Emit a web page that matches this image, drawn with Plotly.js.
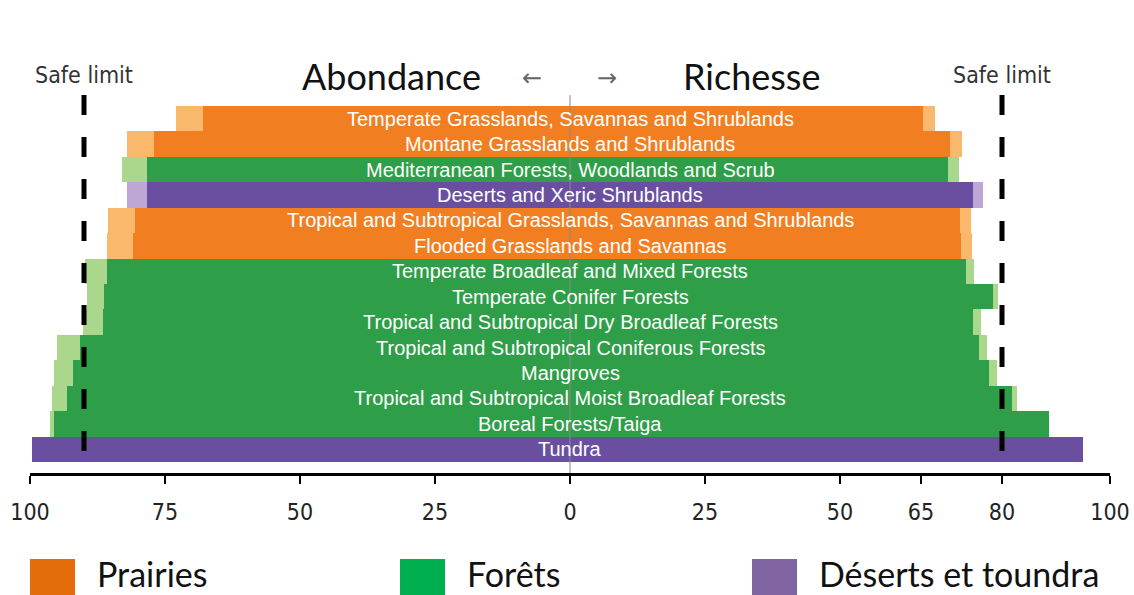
<!DOCTYPE html>
<html>
<head>
<meta charset="utf-8">
<script src="https://cdn.plot.ly/plotly-3.0.1.min.js"></script>
<style>html,body{margin:0;padding:0;background:#fff;}#chart{width:1134px;height:595px;}</style>
</head>
<body>
<div id="chart"></div>
<script>
// ---- data ----
const biomes = [
  "Temperate Grasslands, Savannas and Shrublands",
  "Montane Grasslands and Shrublands",
  "Mediterranean Forests, Woodlands and Scrub",
  "Deserts and Xeric Shrublands",
  "Tropical and Subtropical Grasslands, Savannas and Shrublands",
  "Flooded Grasslands and Savannas",
  "Temperate Broadleaf and Mixed Forests",
  "Temperate Conifer Forests",
  "Tropical and Subtropical Dry Broadleaf Forests",
  "Tropical and Subtropical Coniferous Forests",
  "Mangroves",
  "Tropical and Subtropical Moist Broadleaf Forests",
  "Boreal Forests/Taiga",
  "Tundra"
];
const groups = ["P","P","F","D","P","P","F","F","F","F","F","F","F","D"];
const abundanceCore  = [68.0, 77.0, 78.3, 78.4, 80.5, 81.0, 85.8, 86.3, 86.4, 90.7, 92.1, 93.2, 95.5, 99.6];
const abundanceUpper = [73.0, 82.0, 83.0, 82.0, 85.5, 85.8, 89.8, 89.4, 90.1, 95.0, 95.6, 96.0, 96.3, 99.6];
const richnessCore   = [65.4, 70.4, 70.0, 74.7, 72.2, 72.4, 73.3, 78.3, 74.6, 75.8, 77.6, 81.8, 88.7, 95.0];
const richnessUpper  = [67.6, 72.6, 72.0, 76.4, 74.2, 74.4, 74.8, 79.3, 76.1, 77.3, 79.0, 82.8, 88.7, 95.0];
const safeLimitAbundance = 90;
const safeLimitRichness = 80;
const tickVals  = [-100, -75, -50, -25, 0, 25, 50, 65, 80, 100];
const tickText  = ["100", "75", "50", "25", "0", "25", "50", "65", "80", "100"];
const legendLabels = {P: "Prairies", F: "Forêts", D: "Déserts et toundra"};

// ---- styles ----
const darkCol  = {P: "#F17F22", F: "#2E9E48", D: "#6A4FA0"};
const lightCol = {P: "#F9B86B", F: "#ABD78D", D: "#BEA7D7"};
const legendCol = {P: "#E46C0A", F: "#00B050", D: "#8064A2"};
const narrowFont = "'Liberation Sans Narrow', 'DejaVu Sans Condensed', sans-serif";

const darkColors  = groups.map(g => darkCol[g]);
const lightColors = groups.map(g => lightCol[g]);

const barCommon = {type: "bar", orientation: "h", y: biomes, width: 1, hoverinfo: "skip", showlegend: false};

const traces = [
  Object.assign({}, barCommon, {
    base: abundanceUpper.map(v => -v),
    x: abundanceUpper.map((v, i) => v - abundanceCore[i]),
    marker: {color: lightColors, line: {width: 0}}
  }),
  Object.assign({}, barCommon, {
    base: richnessCore,
    x: richnessUpper.map((v, i) => v - richnessCore[i]),
    marker: {color: lightColors, line: {width: 0}}
  }),
  Object.assign({}, barCommon, {
    base: abundanceCore.map(v => -v),
    x: abundanceCore.map((v, i) => v + richnessCore[i]),
    marker: {color: darkColors, line: {width: 0}}
  })
];

// geometry helpers (pixel -> paper)
const L = 30, R = 24, T = 100, B = 122, W = 1134, H = 595;
const pw = W - L - R, ph = H - T - B;
const px = x => (x - L) / pw;
const py = y => (H - B - y) / ph;

const annotations = biomes.map(b => ({
  x: 0, y: b, xref: "x", yref: "y", xanchor: "center", yanchor: "middle", text: b, showarrow: false,
  font: {family: "'Liberation Sans', Arial, sans-serif", size: 20, color: "#FFFFFF"}
}));

const titleFont = {family: "Lato, 'Open Sans', sans-serif", size: 36, color: "#111"};
const mk = (x, y, xref, text, font, xanchor) => ({x, y, xref, yref: "paper", text, font, showarrow: false,
  xanchor: xanchor || "center", yanchor: "middle"});
annotations.push(
  mk(px(391), py(76), "paper", "Abondance", titleFont),
  mk(px(751), py(76), "paper", "Richesse", titleFont),
  mk(px(532), py(78), "paper", "←", {family: "'DejaVu Sans', sans-serif", size: 24, color: "#666"}),
  mk(px(607), py(78), "paper", "→", {family: "'DejaVu Sans', sans-serif", size: 24, color: "#666"}),
  mk(-safeLimitAbundance, py(75), "x", "Safe limit", {family: narrowFont, size: 23, color: "#333"}),
  mk(safeLimitRichness, py(75), "x", "Safe limit", {family: narrowFont, size: 23, color: "#333"})
);

const shapes = [
  {type: "line", xref: "x", yref: "paper", x0: 0, x1: 0, y0: 0, y1: py(95), layer: "above",
   line: {color: "#8a8a8a", width: 1}},
  {type: "line", xref: "x", yref: "paper", x0: -safeLimitAbundance, x1: -safeLimitAbundance, y0: py(95), y1: 0, layer: "above",
   line: {color: "#000", width: 5, dash: "20px,22px"}},
  {type: "line", xref: "x", yref: "paper", x0: safeLimitRichness, x1: safeLimitRichness, y0: py(95), y1: 0, layer: "above",
   line: {color: "#000", width: 5, dash: "20px,22px"}}
];

// legend (custom, drawn in paper space)
const legendPos = [["P", 30, 95], ["F", 400, 465], ["D", 752, 817]];
legendPos.forEach(([g, sx, tx]) => {
  shapes.push({type: "rect", xref: "paper", yref: "paper", x0: px(sx), x1: px(sx + 45), y0: py(600), y1: py(559),
    fillcolor: legendCol[g], line: {width: 0}});
  annotations.push(mk(px(tx), py(573), "paper", legendLabels[g],
    {family: "Lato, 'Open Sans', sans-serif", size: 34, color: "#111"}, "left"));
});

const layout = {
  width: W, height: H,
  margin: {l: L, r: R, t: T, b: B},
  paper_bgcolor: "#fff", plot_bgcolor: "#fff",
  barmode: "overlay", bargap: 0,
  showlegend: false,
  xaxis: {
    range: [-100, 100], tickvals: tickVals, ticktext: tickText,
    showgrid: false, zeroline: false, showline: true, linecolor: "#000", linewidth: 3,
    ticks: "outside", ticklen: 8, tickwidth: 2, tickcolor: "#000",
    ticklabelstandoff: 8,
    tickfont: {family: narrowFont, size: 23, color: "#222"},
    fixedrange: true
  },
  yaxis: {
    type: "category", categoryorder: "array", categoryarray: biomes,
    range: [13.93, -0.735], showticklabels: false, showgrid: false, zeroline: false, showline: false, ticks: "",
    fixedrange: true
  },
  annotations: annotations,
  shapes: shapes
};

Plotly.newPlot("chart", traces, layout, {displayModeBar: false, staticPlot: true});
</script>
</body>
</html>
